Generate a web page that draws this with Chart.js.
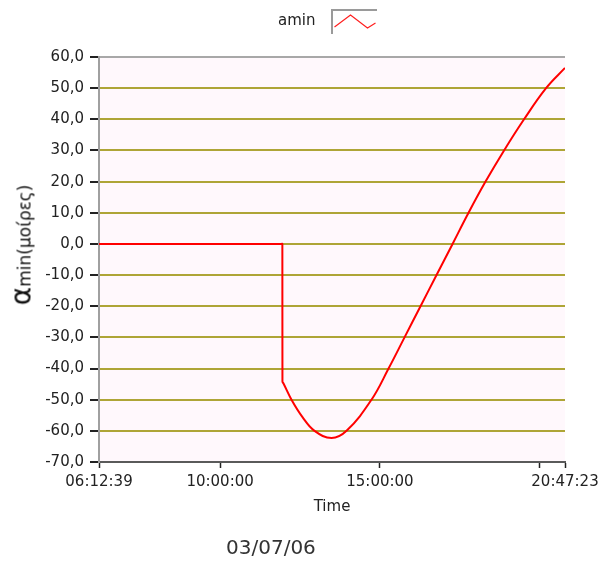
<!DOCTYPE html>
<html>
<head>
<meta charset="utf-8">
<script src="https://cdn.jsdelivr.net/npm/chart.js@4"></script>
<style>
  body { margin: 0; background: #fff; }
  #wrap { position: relative; width: 600px; height: 564px; }
  #yTitle {
    position: absolute; left: 21px; top: 245px;
    transform: translate(-50%, -50%) rotate(-90deg);
    white-space: nowrap; font-family: "DejaVu Sans"; color: #111;
  }
  #yTitle .a { font-size: 28px; }
  #yTitle .m { font-size: 17px; }
  #date {
    position: absolute; left: 226px; top: 535px;
    font-family: "DejaVu Sans"; font-size: 20px; color: #333;
  }
</style>
</head>
<body>
<div id="wrap">
  <canvas id="aminChart"></canvas>
  <div id="yTitle"><span class="a">α</span><span class="m">min(μοίρες)</span></div>
  <div id="date">03/07/06</div>
</div>
<script>
const times = ['06:12:39', '11:55:00', '11:56:50', '11:57:00', '11:59:00', '12:14:00', '12:34:40',
    '12:57:15', '13:29:10', '13:57:20', '14:44:10', '15:16:10', '15:46:10', '16:16:10',
    '16:46:15', '17:16:20', '17:46:20', '18:18:15', '18:53:00', '19:30:30', '20:11:50', '20:47:23'];
const amin = [0, 0, 0, -44.2, -44.8, -50, -55.6, -60, -62.3, -60, -50, -40, -30, -20,
    -10, 0, 10, 20, 30, 40, 50, 56.5];

const tickTimes = ['06:12:39', '10:00:00', '15:00:00', '20:00:00', '20:47:23'];
const tickLabels = ['06:12:39', '10:00:00', '15:00:00', '', '20:47:23'];

function toHours(t) {
    const p = t.split(':').map(Number);
    return p[0] + p[1] / 60 + p[2] / 3600;
}

const tickHours = tickTimes.map(toHours);
const font = { family: 'DejaVu Sans', size: 15 };

// legend swatch: grey corner frame with a red zigzag
const swatch = document.createElement('canvas');
swatch.width = 70;
swatch.height = 25;
const sc = swatch.getContext('2d');
sc.strokeStyle = '#9a9a9a';
sc.lineWidth = 2;
sc.beginPath();
sc.moveTo(25, 25);
sc.lineTo(25, 1);
sc.lineTo(70, 1);
sc.stroke();
sc.strokeStyle = '#ff2020';
sc.lineWidth = 1.2;
sc.beginPath();
sc.moveTo(27.5, 18);
sc.lineTo(43.5, 6);
sc.lineTo(60.5, 19);
sc.lineTo(68.5, 14);
sc.stroke();

const plotBg = {
    id: 'plotBg',
    beforeDraw(chart) {
        const a = chart.chartArea;
        const c = chart.ctx;
        c.save();
        c.fillStyle = '#fff8fc';
        c.fillRect(a.left, a.top, a.right - a.left, a.bottom - a.top);
        c.restore();
    }
};

const ctx = document.getElementById('aminChart').getContext('2d');
new Chart(ctx, {
    type: 'line',
    data: {
        datasets: [{
            label: 'amin',
            data: times.map((t, i) => ({ x: toHours(t), y: amin[i] })),
            borderColor: '#ff0000',
            borderWidth: 2,
            pointRadius: 0,
            tension: 0.4,
            fill: false
        }]
    },
    options: {
        responsive: true,
        maintainAspectRatio: false,
        animation: false,
        layout: {
            padding: { left: 39, right: 0, top: 4, bottom: 40 }
        },
        plugins: {
            legend: {
                weight: 3000,
                rtl: true,
                labels: {
                    usePointStyle: true,
                    pointStyle: swatch,
                    pointStyleWidth: 38,
                    padding: 10,
                    color: '#222',
                    font: font
                }
            },
            title: {
                display: true,
                text: '',
                font: { size: 10 },
                padding: { top: 0, bottom: 6 }
            },
            tooltip: { enabled: false }
        },
        scales: {
            x: {
                type: 'linear',
                min: tickHours[0],
                max: tickHours[tickHours.length - 1],
                afterBuildTicks: (scale) => {
                    scale.ticks = tickHours.map(v => ({ value: v }));
                },
                afterFit: (scale) => {
                    scale.height = 62;
                    scale.paddingRight = 35;
                },
                ticks: {
                    autoSkip: false,
                    maxRotation: 0,
                    padding: 5,
                    color: '#222',
                    font: font,
                    callback: (v, i) => tickLabels[i]
                },
                grid: {
                    drawOnChartArea: false,
                    tickLength: 6,
                    tickColor: '#222',
                    tickWidth: 1.5
                },
                border: { color: '#5a5a5a', width: 2 },
                title: {
                    display: true,
                    text: 'Time',
                    color: '#222',
                    font: font,
                    padding: { top: 0, bottom: 8 }
                }
            },
            y: {
                min: -70,
                max: 60,
                afterFit: (scale) => { scale.width = 60; },
                ticks: {
                    stepSize: 10,
                    padding: 6,
                    color: '#222',
                    font: font,
                    callback: v => v.toFixed(1).replace('.', ',')
                },
                grid: {
                    color: c => c.tick.value === 60 ? '#a8a8a8' : (c.tick.value === -70 ? 'rgba(0,0,0,0)' : '#aea536'),
                    lineWidth: 2,
                    tickLength: 9,
                    tickColor: '#222',
                    tickWidth: 2
                },
                border: { color: '#a0a0a0', width: 2 }
            }
        }
    },
    plugins: [plotBg]
});
</script>
</body>
</html>
